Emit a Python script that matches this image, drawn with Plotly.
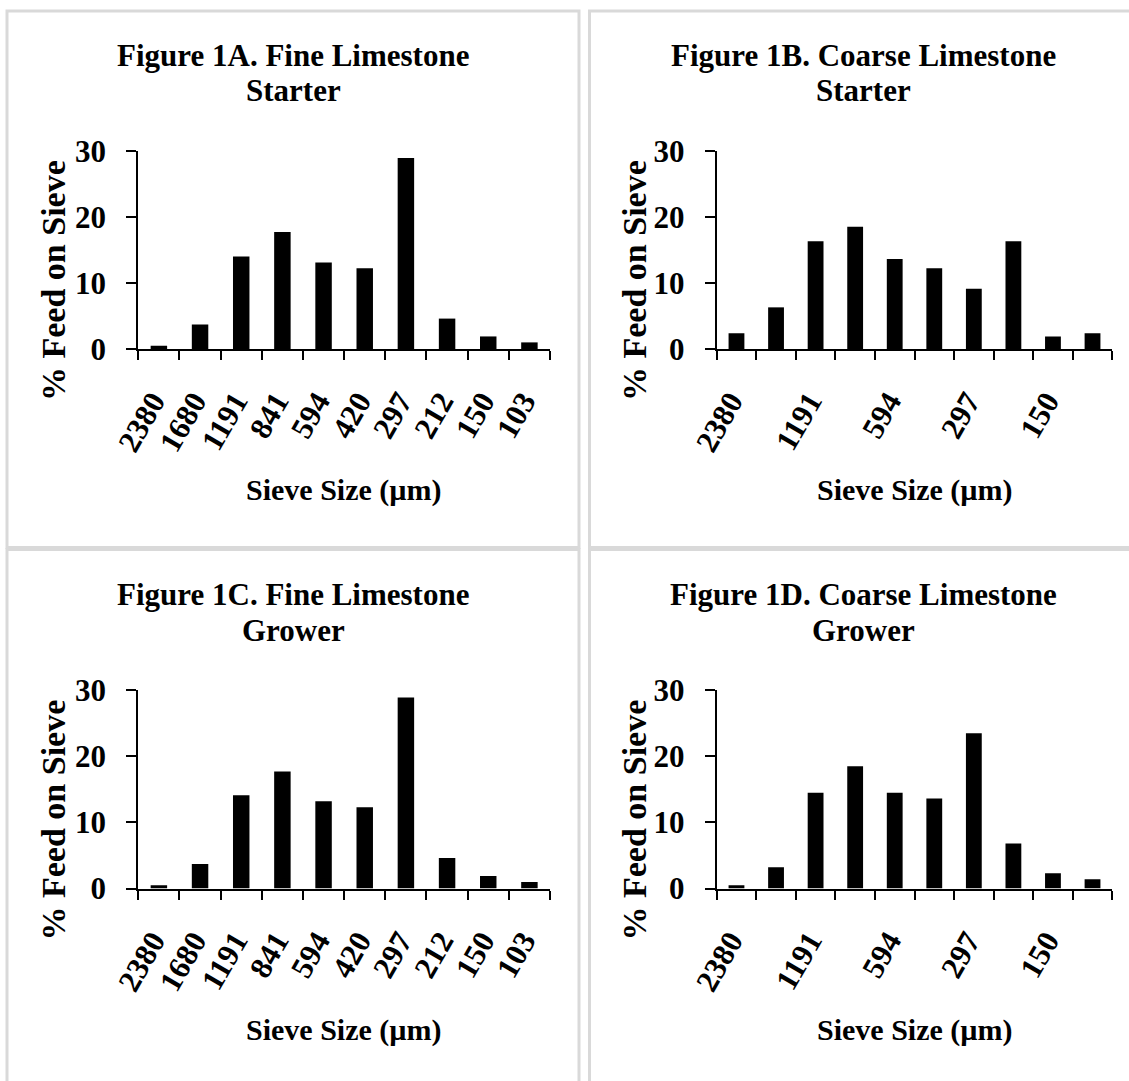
import plotly.graph_objects as go

# Sieve openings (µm), coarsest to finest
sieve_sizes = ["2380", "1680", "1191", "841", "594", "420", "297", "212", "150", "103"]

# Percent of feed retained on each sieve
fine_starter = [0.5, 3.7, 14.0, 17.7, 13.1, 12.2, 28.9, 4.6, 1.9, 1.0]
coarse_starter = [2.4, 6.3, 16.3, 18.5, 13.6, 12.2, 9.1, 16.3, 1.9, 2.4]
fine_grower = [0.5, 3.7, 14.1, 17.7, 13.2, 12.3, 28.9, 4.6, 1.9, 1.0]
coarse_grower = [0.5, 3.2, 14.5, 18.5, 14.5, 13.6, 23.5, 6.8, 2.3, 1.4]

panel_titles = [
    "Figure 1A. Fine Limestone",
    "Figure 1B. Coarse Limestone",
    "Figure 1C. Fine Limestone",
    "Figure 1D. Coarse Limestone",
]
panel_subtitles = ["Starter", "Starter", "Grower", "Grower"]
panel_series = [fine_starter, coarse_starter, fine_grower, coarse_grower]
label_every = [1, 2, 1, 2]  # coarse panels label every other sieve

y_ticks = [0, 10, 20, 30]
y_title = "% Feed on Sieve"
x_title = "Sieve Size (µm)"

# ---- page geometry (pixels) ----
W, H = 1129, 1081
FONT = "Liberation Serif"

plot_x = [(138.3, 550.0), (716.7, 1112.3)]      # per column
plot_y = [(150.7, 349.0), (690.2, 888.5)]       # per row (top, bottom)
frame_x = [(7.0, 579.0), (589.5, 1150.0)]
frame_y = [(11.0, 547.5), (549.5, 1100.0)]
title_cx = [293.0, 863.7]
ytitle_cx = [53.0, 634.0]


def px(x):
    return x / W


def py(y):
    return 1 - y / H


def bold(size):
    return dict(family=FONT, size=size, color="black", weight="bold")


fig = go.Figure()
layout = dict(
    template="none",
    width=W,
    height=H,
    margin=dict(l=0, r=0, t=0, b=0, pad=0, autoexpand=False),
    paper_bgcolor="white",
    plot_bgcolor="white",
    showlegend=False,
    bargap=0.6,
    font=bold(30),
    annotations=[],
    shapes=[],
)

for k in range(4):
    row, col = divmod(k, 2)
    sfx = "" if k == 0 else str(k + 1)
    xa, ya = "xaxis" + sfx, "yaxis" + sfx
    (x0, x1), (ytop, ybot) = plot_x[col], plot_y[row]

    fig.add_trace(
        go.Bar(
            x=sieve_sizes,
            y=panel_series[k],
            marker=dict(color="black", line=dict(width=0)),
            xaxis="x" + sfx,
            yaxis="y" + sfx,
        )
    )

    step = label_every[k]
    ticktext = [s if i % step == 0 else "" for i, s in enumerate(sieve_sizes)]

    layout[xa] = dict(
        domain=[px(x0), px(x1)],
        anchor="y" + sfx,
        automargin=False,
        type="category",
        tickmode="array",
        tickvals=sieve_sizes,
        ticktext=ticktext,
        tickson="boundaries",
        ticks="outside",
        ticklen=9,
        tickwidth=2,
        tickcolor="black",
        showline=True,
        linecolor="black",
        linewidth=2,
        showgrid=False,
        zeroline=False,
        tickangle=-60,
        tickfont=bold(31),
        ticklabelstandoff=20,
        ticklabelshift=-6,
        fixedrange=True,
    )
    layout[ya] = dict(
        domain=[py(ybot), py(ytop)],
        anchor="x" + sfx,
        automargin=False,
        range=[0, 30],
        tickmode="array",
        tickvals=y_ticks,
        ticks="outside",
        ticklen=10,
        tickwidth=2,
        tickcolor="black",
        showline=True,
        linecolor="black",
        linewidth=2,
        showgrid=False,
        zeroline=False,
        tickfont=bold(31),
        ticklabelstandoff=14,
        fixedrange=True,
    )

    # panel frame
    fx0, fx1 = frame_x[col]
    fy0, fy1 = frame_y[row]
    layout["shapes"].append(
        dict(
            type="rect", xref="paper", yref="paper",
            x0=px(fx0), x1=px(fx1), y0=py(fy1), y1=py(fy0),
            line=dict(color="#d9d9d9", width=3),
            fillcolor="rgba(0,0,0,0)",
            layer="below",
        )
    )

    off = plot_y[row][0] - plot_y[0][0]
    # two-line chart title
    for text, yc in ((panel_titles[k], 55.0), (panel_subtitles[k], 91.0)):
        layout["annotations"].append(
            dict(
                text=text, xref="paper", yref="paper",
                x=px(title_cx[col]), y=py(yc + off),
                xanchor="center", yanchor="middle",
                showarrow=False, font=bold(31),
            )
        )
    # axis titles
    layout["annotations"].append(
        dict(
            text=y_title, xref="paper", yref="paper",
            x=px(ytitle_cx[col]), y=py(281.0 + off),
            xanchor="center", yanchor="middle", textangle=-90,
            showarrow=False, font=bold(34),
        )
    )
    layout["annotations"].append(
        dict(
            text=x_title, xref="paper", yref="paper",
            x=px((x0 + x1) / 2), y=py(490.0 + off),
            xanchor="center", yanchor="middle",
            showarrow=False, font=bold(30),
        )
    )

fig.update_layout(**layout)
fig.write_html("out.html")
